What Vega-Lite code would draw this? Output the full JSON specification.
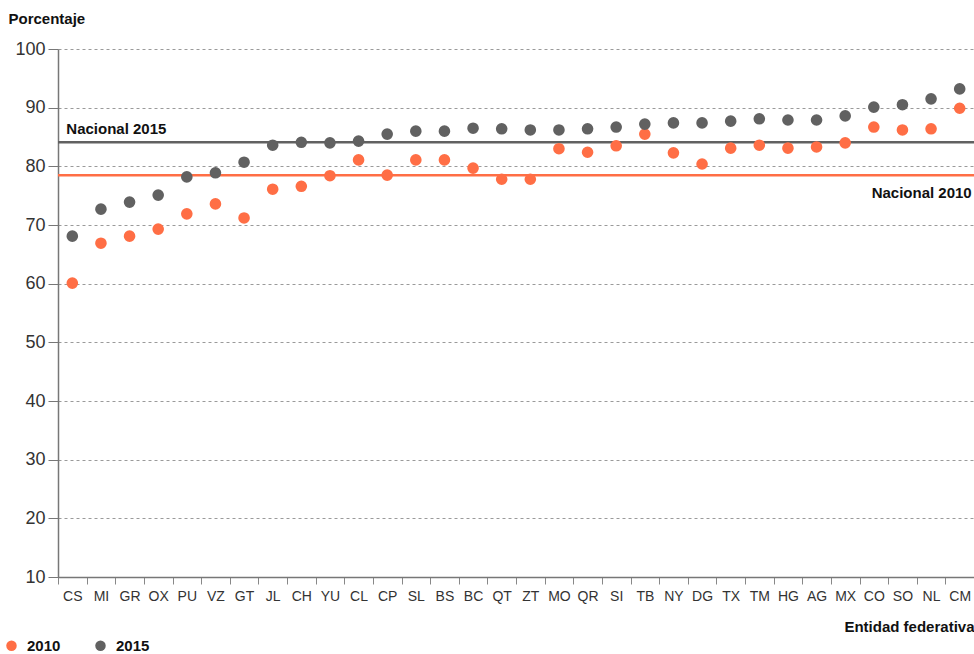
{
  "$schema": "https://vega.github.io/schema/vega-lite/v6.json",
  "width": 916,
  "height": 528,
  "autosize": "none",
  "padding": {"left": 58, "top": 49, "right": 0, "bottom": 77},
  "background": "white",
  "config": {
    "font": "Liberation Sans",
    "view": {"stroke": null}
  },
  "datasets": {
    "puntos": [
      {"estado": "CS", "anio": "2010", "valor": 60.1}, {"estado": "CS", "anio": "2015", "valor": 68.1},
      {"estado": "MI", "anio": "2010", "valor": 66.9}, {"estado": "MI", "anio": "2015", "valor": 72.7},
      {"estado": "GR", "anio": "2010", "valor": 68.1}, {"estado": "GR", "anio": "2015", "valor": 73.9},
      {"estado": "OX", "anio": "2010", "valor": 69.3}, {"estado": "OX", "anio": "2015", "valor": 75.1},
      {"estado": "PU", "anio": "2010", "valor": 71.9}, {"estado": "PU", "anio": "2015", "valor": 78.2},
      {"estado": "VZ", "anio": "2010", "valor": 73.6}, {"estado": "VZ", "anio": "2015", "valor": 78.9},
      {"estado": "GT", "anio": "2010", "valor": 71.2}, {"estado": "GT", "anio": "2015", "valor": 80.7},
      {"estado": "JL", "anio": "2010", "valor": 76.1}, {"estado": "JL", "anio": "2015", "valor": 83.6},
      {"estado": "CH", "anio": "2010", "valor": 76.6}, {"estado": "CH", "anio": "2015", "valor": 84.1},
      {"estado": "YU", "anio": "2010", "valor": 78.4}, {"estado": "YU", "anio": "2015", "valor": 84.0},
      {"estado": "CL", "anio": "2010", "valor": 81.1}, {"estado": "CL", "anio": "2015", "valor": 84.3},
      {"estado": "CP", "anio": "2010", "valor": 78.5}, {"estado": "CP", "anio": "2015", "valor": 85.5},
      {"estado": "SL", "anio": "2010", "valor": 81.1}, {"estado": "SL", "anio": "2015", "valor": 86.0},
      {"estado": "BS", "anio": "2010", "valor": 81.1}, {"estado": "BS", "anio": "2015", "valor": 86.0},
      {"estado": "BC", "anio": "2010", "valor": 79.7}, {"estado": "BC", "anio": "2015", "valor": 86.5},
      {"estado": "QT", "anio": "2010", "valor": 77.8}, {"estado": "QT", "anio": "2015", "valor": 86.4},
      {"estado": "ZT", "anio": "2010", "valor": 77.8}, {"estado": "ZT", "anio": "2015", "valor": 86.2},
      {"estado": "MO", "anio": "2010", "valor": 83.0}, {"estado": "MO", "anio": "2015", "valor": 86.2},
      {"estado": "QR", "anio": "2010", "valor": 82.4}, {"estado": "QR", "anio": "2015", "valor": 86.4},
      {"estado": "SI", "anio": "2010", "valor": 83.5}, {"estado": "SI", "anio": "2015", "valor": 86.7},
      {"estado": "TB", "anio": "2010", "valor": 85.5}, {"estado": "TB", "anio": "2015", "valor": 87.2},
      {"estado": "NY", "anio": "2010", "valor": 82.3}, {"estado": "NY", "anio": "2015", "valor": 87.4},
      {"estado": "DG", "anio": "2010", "valor": 80.4}, {"estado": "DG", "anio": "2015", "valor": 87.4},
      {"estado": "TX", "anio": "2010", "valor": 83.1}, {"estado": "TX", "anio": "2015", "valor": 87.7},
      {"estado": "TM", "anio": "2010", "valor": 83.6}, {"estado": "TM", "anio": "2015", "valor": 88.1},
      {"estado": "HG", "anio": "2010", "valor": 83.1}, {"estado": "HG", "anio": "2015", "valor": 87.9},
      {"estado": "AG", "anio": "2010", "valor": 83.3}, {"estado": "AG", "anio": "2015", "valor": 87.9},
      {"estado": "MX", "anio": "2010", "valor": 84.0}, {"estado": "MX", "anio": "2015", "valor": 88.6},
      {"estado": "CO", "anio": "2010", "valor": 86.7}, {"estado": "CO", "anio": "2015", "valor": 90.1},
      {"estado": "SO", "anio": "2010", "valor": 86.2}, {"estado": "SO", "anio": "2015", "valor": 90.5},
      {"estado": "NL", "anio": "2010", "valor": 86.4}, {"estado": "NL", "anio": "2015", "valor": 91.5},
      {"estado": "CM", "anio": "2010", "valor": 89.9}, {"estado": "CM", "anio": "2015", "valor": 93.2}
    ],
    "nacional": [
      {"serie": "N2010", "nivel": 78.5, "etiqueta": "Nacional 2010", "ancla": "CM"},
      {"serie": "N2015", "nivel": 84.1, "etiqueta": "Nacional 2015", "ancla": "CS"}
    ]
  },
  "layer": [
    {
      "data": {"name": "nacional"},
      "mark": {"type": "rule", "strokeWidth": 2.5},
      "encoding": {
        "y": {"field": "nivel", "type": "quantitative", "scale": {"domain": [10, 100]}},
        "stroke": {
          "field": "serie", "type": "nominal",
          "scale": {"domain": ["N2010", "N2015"], "range": ["#FF6E45", "#616161"]},
          "legend": null
        }
      }
    },
    {
      "data": {"name": "puntos"},
      "mark": {"type": "point", "filled": true, "opacity": 1, "size": 135, "shape": "circle"},
      "encoding": {
        "x": {
          "field": "estado", "type": "nominal", "sort": null,
          "scale": {"paddingInner": 0, "paddingOuter": 0},
          "axis": {
            "title": "Entidad federativa",
            "titleAnchor": "end",
            "titleFontSize": 15,
            "titleFontWeight": "bold",
            "titleColor": "#111",
            "titlePadding": 16,
            "labelAngle": 0,
            "labelFontSize": 14,
            "labelColor": "#333",
            "labelPadding": 5,
            "tickBand": "extent",
            "tickColor": "#888",
            "tickSize": 7,
            "domainColor": "#777",
            "domainWidth": 1.5
          }
        },
        "y": {
          "field": "valor", "type": "quantitative",
          "scale": {"domain": [10, 100]},
          "axis": {
            "title": "Porcentaje",
            "titleAngle": 0,
            "titleAlign": "left",
            "titleBaseline": "middle",
            "titleX": -50,
            "titleY": -31,
            "titleFontSize": 15,
            "titleFontWeight": "bold",
            "titleColor": "#111",
            "values": [10, 20, 30, 40, 50, 60, 70, 80, 90, 100],
            "labelFontSize": 18,
            "labelColor": "#333",
            "labelPadding": 3,
            "tickSize": 10,
            "tickColor": "#777",
            "domainColor": "#777",
            "domainWidth": 1.5,
            "grid": true,
            "gridDash": [3, 3],
            "gridColor": "#9a9a9a",
            "gridWidth": 1
          }
        },
        "color": {
          "field": "anio", "type": "nominal",
          "scale": {"domain": ["2010", "2015"], "range": ["#FF6E45", "#616161"]},
          "legend": {
            "title": null,
            "orient": "none",
            "legendX": -54,
            "legendY": 589,
            "direction": "horizontal",
            "symbolType": "circle",
            "symbolSize": 110,
            "symbolOpacity": 1,
            "labelFontSize": 15,
            "labelFontWeight": "bold",
            "labelColor": "#111",
            "labelOffset": 8,
            "columnPadding": 32
          }
        }
      }
    },
    {
      "data": {"name": "nacional"},
      "transform": [{"filter": "datum.serie == 'N2015'"}],
      "mark": {"type": "text", "align": "left", "baseline": "middle", "dx": -6, "dy": -13, "fontSize": 15, "fontWeight": "bold", "color": "#111"},
      "encoding": {
        "x": {"field": "ancla", "type": "nominal", "sort": null},
        "y": {"field": "nivel", "type": "quantitative"},
        "text": {"field": "etiqueta"}
      }
    },
    {
      "data": {"name": "nacional"},
      "transform": [{"filter": "datum.serie == 'N2010'"}],
      "mark": {"type": "text", "align": "right", "baseline": "middle", "dx": 12, "dy": 18, "fontSize": 15, "fontWeight": "bold", "color": "#111"},
      "encoding": {
        "x": {"field": "ancla", "type": "nominal", "sort": null},
        "y": {"field": "nivel", "type": "quantitative"},
        "text": {"field": "etiqueta"}
      }
    }
  ]
}
